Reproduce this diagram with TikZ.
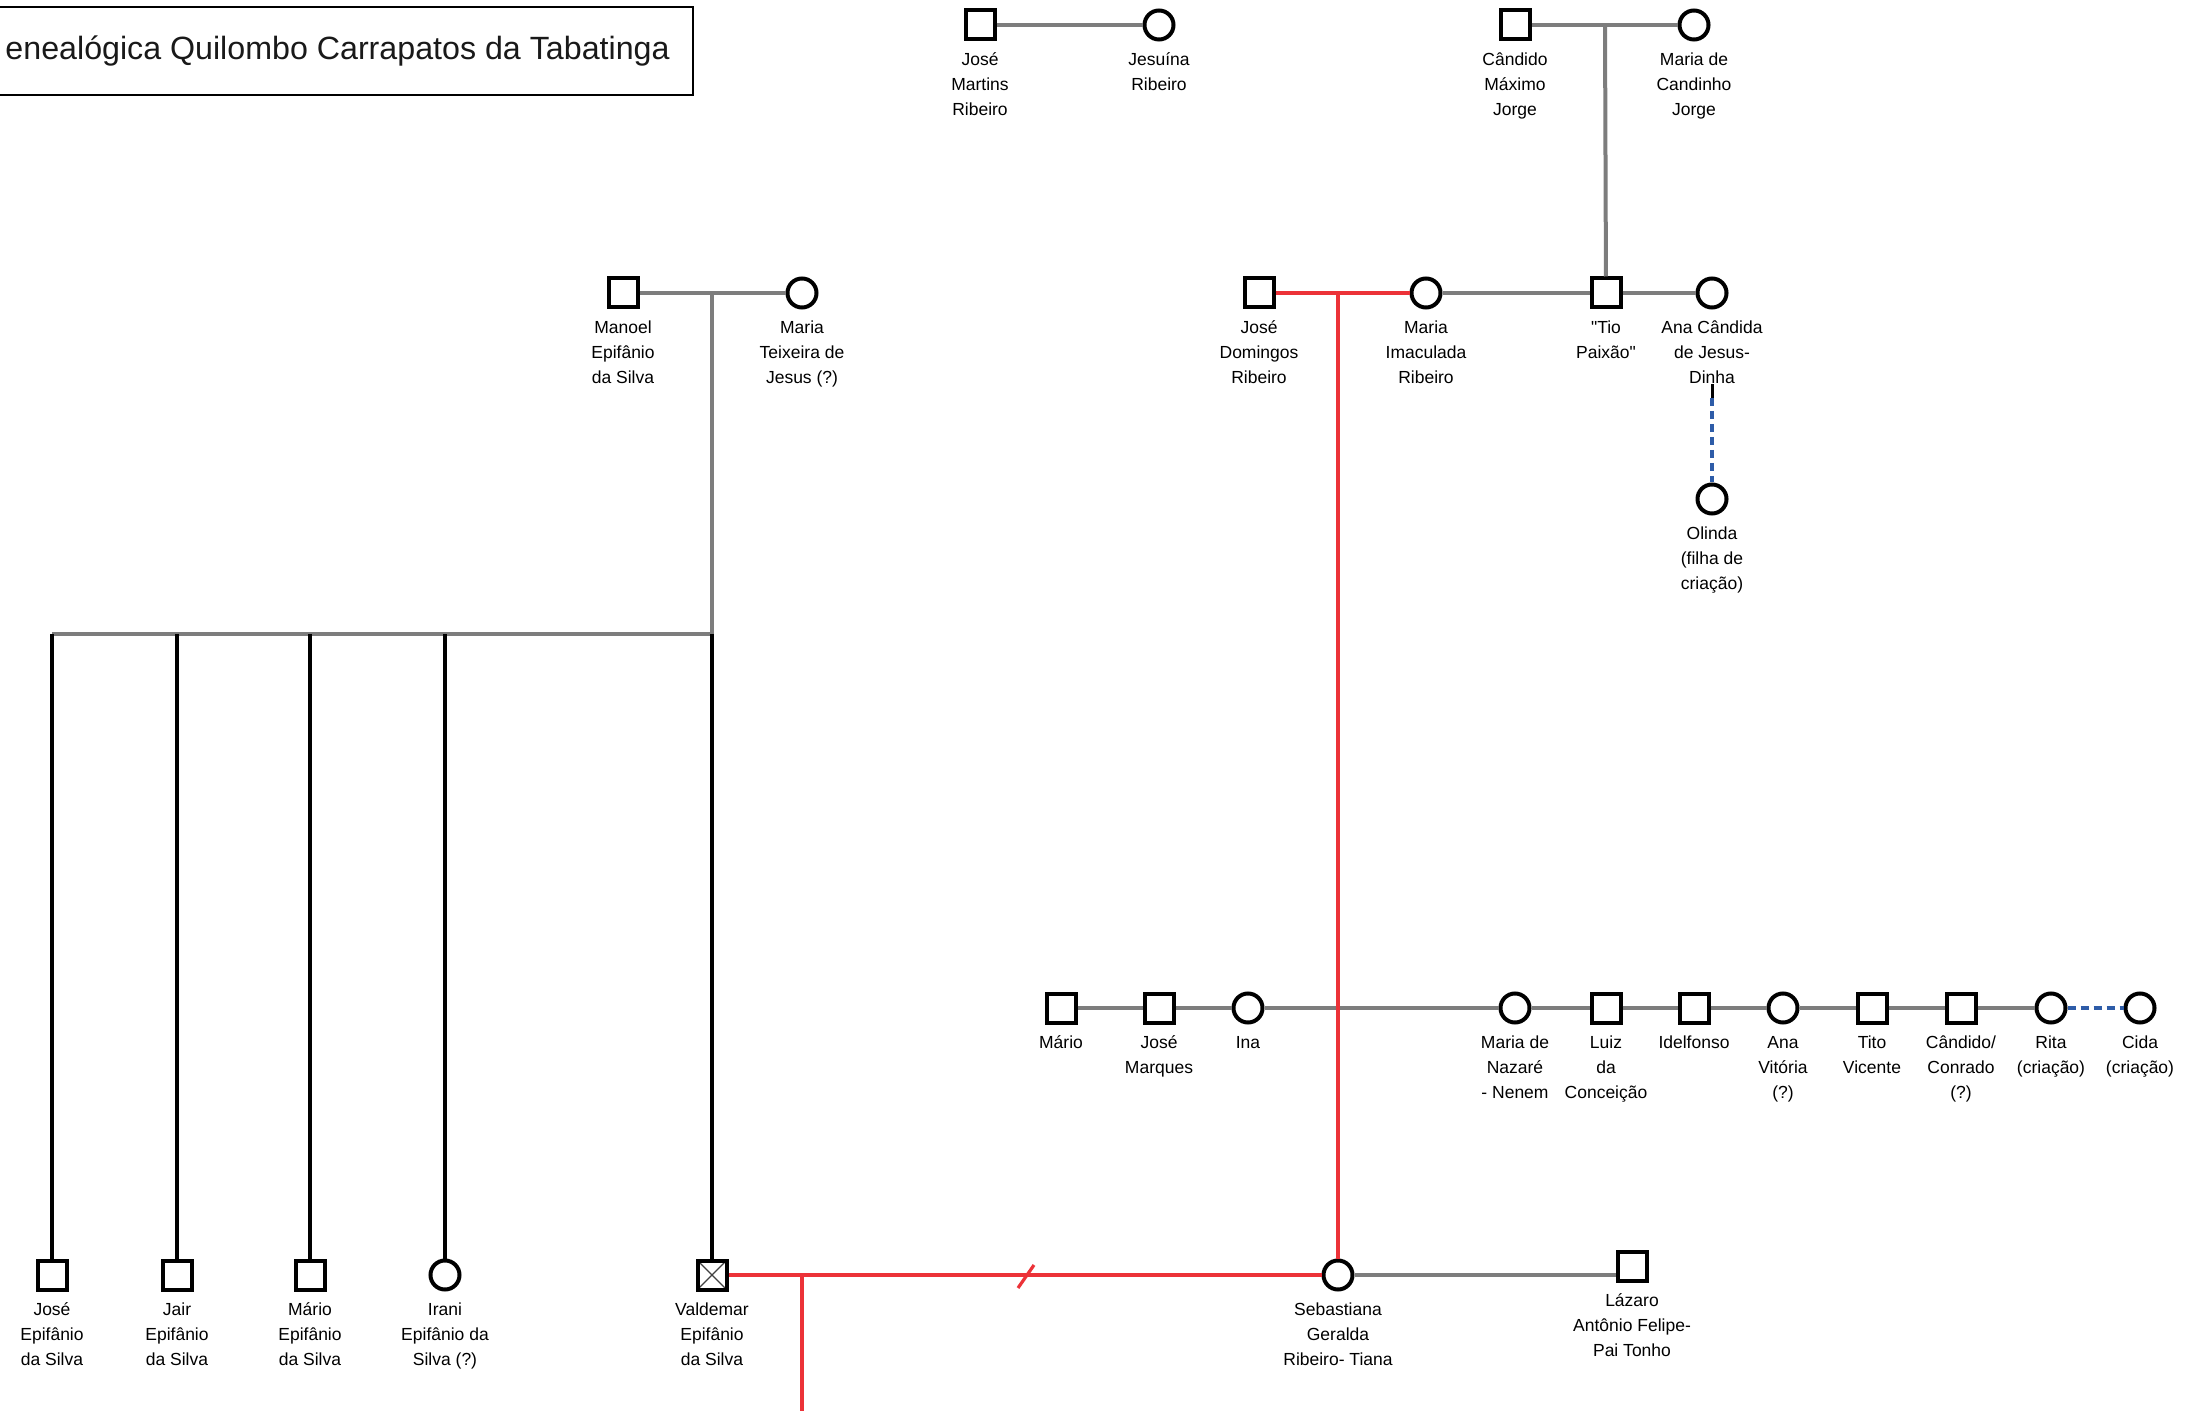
\documentclass[tikz,border=0pt]{standalone}
\usepackage{fontspec}
\setmainfont{Liberation Sans}
\usetikzlibrary{calc}
\definecolor{lgrey}{RGB}{125,125,125}
\definecolor{lred}{RGB}{236,50,56}
\definecolor{lblue}{RGB}{46,92,168}
\newcommand\psn[5]{\node[#1] (#2) at (#3,#4) {};\node[lbl] (#2-l) at (#3,#4) {\strut #5};}
\begin{document}
\begin{tikzpicture}[x=0.5pt,y=-0.5pt,
  sym/.style={draw=black,line width=2pt,fill=white,inner sep=0pt},
  male/.style={sym,rectangle,minimum size=14.5pt},
  female/.style={sym,circle,minimum size=14.5pt},
  dead/.style={male,path picture={\draw[line width=0.6pt,black!75]
     (path picture bounding box.north west) -- (path picture bounding box.south east)
     (path picture bounding box.north east) -- (path picture bounding box.south west);}},
  lbl/.style={anchor=north,align=center,inner sep=0pt,
     font=\fontsize{8.75pt}{12.5pt}\selectfont,text=black,yshift=-11.5pt},
  gline/.style={draw=lgrey,line width=2pt},
  rline/.style={draw=lred,line width=2pt},
  kline/.style={draw=black,line width=2.2pt},
  bdash/.style={draw=lblue,line width=1.6pt,dash pattern=on 4pt off 2.5pt},
]
\useasboundingbox (0,0) rectangle (2186,1411);
\clip (0,0) rectangle (2186,1411);
\fill[white] (0,0) rectangle (2186,1411);

% title
\draw[line width=1pt] (-10,7) rectangle (693,95);
\node[anchor=east,inner sep=0pt,font=\fontsize{16.1pt}{19pt}\selectfont,text=black!90] (title) at (670,51) {enealógica Quilombo Carrapatos da Tabatinga};

% row 1
\psn{male}{jmr}{980}{25}{José\\Martins\\Ribeiro}
\psn{female}{jesuina}{1159}{25}{Jesuína\\Ribeiro}
\psn{male}{candido}{1515}{25}{Cândido\\Máximo\\Jorge}
\psn{female}{mcand}{1694}{25}{Maria de\\Candinho\\Jorge}

% row 2
\psn{male}{manoel}{623}{293}{Manoel\\Epifânio\\da Silva}
\psn{female}{mteix}{802}{293}{Maria\\Teixeira de\\Jesus (?)}
\psn{male}{jdom}{1259}{293}{José\\Domingos\\Ribeiro}
\psn{female}{mimac}{1426}{293}{Maria\\Imaculada\\Ribeiro}
\psn{male}{tio}{1606}{293}{\textquotedbl Tio\\Paixão\textquotedbl}
\psn{female}{anac}{1712}{293}{Ana Cândida\\de Jesus-\\Dinha}
\psn{female}{olinda}{1712}{499}{Olinda\\(filha de\\criação)}

% row 3
\psn{male}{mario}{1061}{1008}{Mário}
\psn{male}{jmarq}{1159}{1008}{José\\Marques}
\psn{female}{ina}{1248}{1008}{Ina}
\psn{female}{mnaz}{1515}{1008}{Maria de\\Nazaré\\- Nenem}
\psn{male}{luiz}{1606}{1008}{Luiz\\da\\Conceição}
\psn{male}{idel}{1694}{1008}{Idelfonso}
\psn{female}{anav}{1783}{1008}{Ana\\Vitória\\(?)}
\psn{male}{tito}{1872}{1008}{Tito\\Vicente}
\psn{male}{cconr}{1961}{1008}{Cândido/\\Conrado\\(?)}
\psn{female}{rita}{2051}{1008}{Rita\\(criação)}
\psn{female}{cida}{2140}{1008}{Cida\\(criação)}

% row 4
\psn{male}{jes}{52}{1275}{José\\Epifânio\\da Silva}
\psn{male}{jair}{177}{1275}{Jair\\Epifânio\\da Silva}
\psn{male}{mes}{310}{1275}{Mário\\Epifânio\\da Silva}
\psn{female}{irani}{445}{1275}{Irani\\Epifânio da\\Silva (?)}
\psn{dead}{valdemar}{712}{1275}{Valdemar\\Epifânio\\da Silva}
\psn{female}{seb}{1338}{1275}{Sebastiana\\Geralda\\Ribeiro- Tiana}
\psn{male}{lazaro}{1632}{1266}{Lázaro\\Antônio Felipe-\\Pai Tonho}

% coordinates
\coordinate (cm) at (1605,25);
\coordinate (mm) at (712,293);
\coordinate (sib) at (712,634);
\coordinate (sibL) at (52,634);
\coordinate (dm) at (1338,293);
\coordinate (acd) at (1712,398);
\coordinate (sl1) at (1018,1288);
\coordinate (sl2) at (1034,1265);
\coordinate (vs) at (802,1275);
\coordinate (vsd) at (802,1425);

% connectors
\draw[gline] (jmr) -- (jesuina);
\draw[gline] (candido) -- (mcand);
\draw[gline] (cm) -- (tio);
\draw[gline] (manoel) -- (mteix);
\draw[gline] (mm) -- (sib);
\draw[gline] (sibL) -- (sib);
\draw[kline] (jes.north |- sib) -- (jes);
\draw[kline] (jair.north |- sib) -- (jair);
\draw[kline] (mes.north |- sib) -- (mes);
\draw[kline] (irani.north |- sib) -- (irani);
\draw[kline] (sib) -- (valdemar);

\draw[gline] (mimac) -- (tio) -- (anac);
\draw[line width=1.5pt] (anac-l.south) -- (acd);
\draw[bdash] (acd) -- (olinda);

\draw[gline] (mario) -- (jmarq) -- (ina) -- (mnaz) -- (luiz) -- (idel) -- (anav) -- (tito) -- (cconr) -- (rita);
\draw[bdash] (rita) -- (cida);

\draw[rline] (jdom) -- (mimac);
\draw[rline] (dm) -- (seb);
\draw[rline] (valdemar) -- (seb);
\draw[rline,line width=1.6pt] (sl1) -- (sl2);
\draw[rline] (vs) -- (vsd);
\draw[gline] (seb) -- (lazaro.west |- seb);
\end{tikzpicture}
\end{document}
